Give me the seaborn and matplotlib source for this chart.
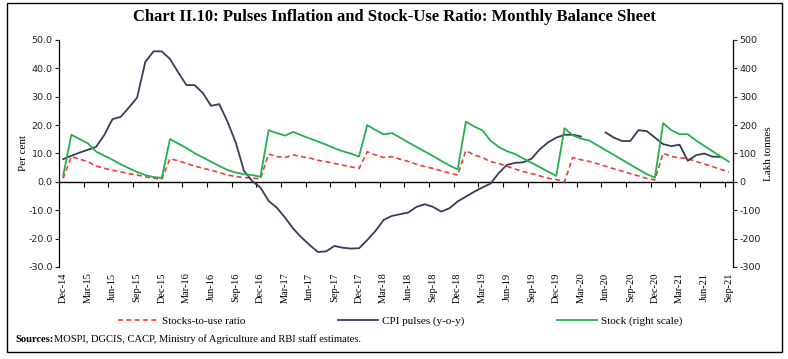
import numpy as np
import pandas as pd
import matplotlib
matplotlib.use("Agg")
import matplotlib.pyplot as plt
import matplotlib.ticker as mticker
from matplotlib.patches import Rectangle
import seaborn as sns

# Data (Dec-14 .. Sep-21, monthly)
months = pd.date_range("2014-12-01", periods=82, freq="MS")
month_labels = [m.strftime("%b-%y") for m in months]

stock_use_ratio = [
    1.2, 8.9, 8.0, 7.1, 5.6, 4.8, 4.1, 3.5, 2.9, 2.4, 1.8, 1.3, 0.9,
    8.2, 7.4, 6.5, 5.6, 4.8, 4.1, 3.3, 2.4, 1.9, 1.5, 1.3, 1.1,
    9.8, 8.9, 8.6, 9.5, 8.9, 8.4, 7.6, 7.1, 6.5, 5.9, 5.3, 4.7,
    10.6, 9.5, 8.6, 8.9, 8.0, 7.2, 6.2, 5.4, 4.7, 3.9, 3.1, 2.4,
    11.0, 9.5, 8.6, 7.1, 6.5, 5.5, 4.5, 3.6, 2.9, 2.1, 1.3, 0.8, 0.0,
    8.6, 7.8, 7.2, 6.4, 5.5, 4.6, 3.8, 2.9, 2.1, 1.2, 0.7,
    10.1, 8.9, 8.5, 8.2, 7.2, 6.3, 5.4, 4.4, 3.5,
]

cpi_pulses = [
    8.0, 9.2, 10.3, 11.3, 12.3, 16.5, 22.1, 22.9, 26.2, 29.7, 42.3, 46.0, 46.0,
    43.3, 38.6, 34.1, 34.1, 31.3, 26.8, 27.4, 21.2, 13.9, 3.9, 0.3, -2.0,
    -6.7, -9.1, -12.6, -16.5, -19.6, -22.3, -24.7, -24.5, -22.6, -23.2, -23.5, -23.4,
    -20.5, -17.3, -13.4, -12.0, -11.4, -10.8, -8.8, -7.9, -8.8, -10.5, -9.3, -6.9,
    -5.2, -3.5, -2.0, -0.6, 3.1, 6.0, 6.7, 6.9, 8.2, 11.5, 13.9, 15.6,
    16.6, 16.6, 16.0, np.nan, np.nan, 17.4, 15.6, 14.4, 14.4, 18.2, 17.9, 15.6,
    13.3, 12.6, 13.1, 7.4, 9.4, 10.0, 8.9, 8.8, np.nan,
]

stock = [
    21, 166, 151, 136, 107, 92, 78, 62, 48, 35, 24, 17, 14,
    151, 135, 119, 101, 86, 71, 56, 42, 33, 27, 24, 18,
    182, 172, 163, 176, 164, 153, 142, 131, 119, 108, 100, 89,
    200, 183, 167, 172, 156, 139, 123, 107, 91, 74, 58, 44,
    212, 195, 182, 145, 123, 108, 98, 82, 67, 52, 36, 21,
    189, 164, 152, 146, 129, 112, 95, 78, 61, 44, 27, 15,
    207, 182, 168, 168, 146, 127, 108, 89, 71,
]

df = pd.DataFrame({
    "pos": np.arange(len(months)),
    "ratio": stock_use_ratio,
    "cpi": cpi_pulses,
    "stock": stock,
})
# CPI has a gap (Apr-May 2020): draw the pieces as separate units
df["cpi_seg"] = df["cpi"].isna().cumsum()

RED = "#ee3b36"
NAVY = "#383c58"
GREEN = "#22b14c"

plt.rcParams["font.family"] = "DejaVu Sans"
plt.rcParams["axes.unicode_minus"] = False
fig = plt.figure(figsize=(7.88, 3.59), dpi=100)
ax = fig.add_axes([0.0749, 0.2563, 0.8553, 0.6323])
ax2 = ax.twinx()

sns.lineplot(data=df, x="pos", y="ratio", ax=ax, color=RED, lw=1.2,
             linestyle=(0, (3, 2)), label="Stocks-to-use ratio")
sns.lineplot(data=df.dropna(subset=["cpi"]), x="pos", y="cpi", units="cpi_seg",
             estimator=None, ax=ax, color=NAVY, lw=1.3, label="CPI pulses (y-o-y)")
sns.lineplot(data=df, x="pos", y="stock", ax=ax2, color=GREEN, lw=1.3,
             label="Stock (right scale)")

h1, l1 = ax.get_legend_handles_labels()
h2, l2 = ax2.get_legend_handles_labels()
ax.get_legend().remove()
ax2.get_legend().remove()
handles, labels = [], []
for h, l in zip(h1 + h2, l1 + l2):
    if l not in labels:
        handles.append(h)
        labels.append(l)

ax.set_xlim(-0.5, len(months) - 0.5)
ax.set_ylim(-30, 50)
ax2.set_ylim(-300, 500)
ax.set_yticks(np.arange(-30, 51, 10))
ax2.set_yticks(np.arange(-300, 501, 100))
ax.yaxis.set_major_formatter(mticker.FormatStrFormatter("%.1f"))

for a in (ax, ax2):
    a.set_xlabel("")
    a.spines["top"].set_visible(False)
    a.spines["bottom"].set_visible(False)
    a.grid(False)
ax.spines["right"].set_visible(False)
ax2.spines["left"].set_visible(False)
for a in (ax, ax2):
    for s in ("left", "right"):
        a.spines[s].set_linewidth(0.9)

ax.tick_params(axis="y", direction="out", length=3, width=0.8, labelsize=6.8,
               colors="#222222", pad=1.5)
ax2.tick_params(axis="y", direction="out", length=3, width=0.8, labelsize=6.8,
                colors="#222222", pad=1.5)

# category labels every 3 months at the bottom
ax.set_xticks(df["pos"][::3])
ax.set_xticklabels(month_labels[::3], rotation=90, family="Liberation Serif",
                   fontsize=7.5)
ax.tick_params(axis="x", length=0, pad=4)

# category axis line through zero with ticks between groups
zero_frac = (0 - (-30)) / 80
sec = ax.secondary_xaxis(zero_frac)
sec.set_xticks(np.arange(-0.5, len(months), 3))
sec.set_xticklabels([])
sec.tick_params(direction="out", length=3.5, width=0.8)
sec.spines["bottom"].set_linewidth(1.0)

ax.set_ylabel("Per cent", family="Liberation Serif", fontsize=8, labelpad=0)
ax2.set_ylabel("Lakh tonnes", family="Liberation Serif", fontsize=8, labelpad=2)

fig.suptitle("Chart II.10: Pulses Inflation and Stock-Use Ratio: Monthly Balance Sheet",
             x=0.5, y=0.975, family="Liberation Serif", fontweight="bold", fontsize=12)

fig.legend(handles, labels, loc="center", bbox_to_anchor=(0.508, 0.106), ncol=3,
           frameon=False, prop={"family": "Liberation Serif", "size": 8},
           handlelength=3.6, handletextpad=0.3, columnspacing=8.4)

fig.text(0.019, 0.055, "Sources:", family="Liberation Serif", fontweight="bold",
         fontsize=7.6, va="center")
fig.text(0.069, 0.055, "MOSPI, DGCIS, CACP, Ministry of Agriculture and RBI staff estimates.",
         family="Liberation Serif", fontsize=7.6, va="center")

fig.add_artist(Rectangle((0.009, 0.02), 0.983, 0.972, transform=fig.transFigure,
                         fill=False, edgecolor="black", lw=1.0))

fig.savefig("out.png", dpi=100)
